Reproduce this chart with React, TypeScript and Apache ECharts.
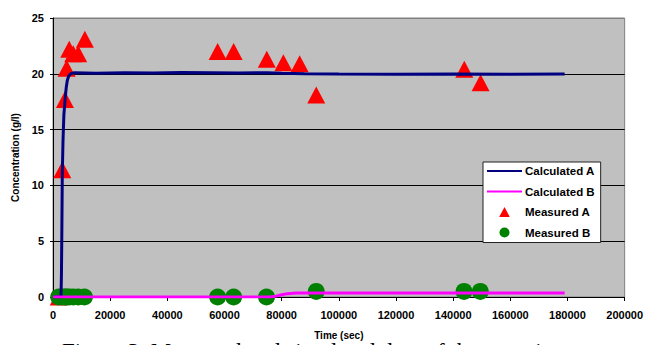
import React, { useEffect, useRef } from "react";
import * as echarts from "echarts";

const xTicks = { min: 0, max: 200000, interval: 20000 };
const yTicks = { min: 0, max: 25, interval: 5 };

const calcA: [number, number][] = [
  [0, 0], [2800, 0], [2950, 2], [3100, 6], [3250, 11], [3500, 14], [3800, 16.3],
  [4200, 17.6], [4600, 18.7], [5000, 19.4], [5500, 19.8], [6200, 20.0], [7500, 20.1],
  [15000, 20.05], [25000, 20.1], [35000, 20.08], [45000, 20.12], [55000, 20.1],
  [65000, 20.08], [75000, 20.1], [80000, 20.05], [88000, 20.0], [100000, 19.98],
  [120000, 19.97], [140000, 19.98], [160000, 19.97], [179000, 19.98],
];

const calcB: [number, number][] = [
  [0, 0], [76000, 0], [78000, 0.08], [80000, 0.2], [82000, 0.3], [85000, 0.35],
  [120000, 0.35], [150000, 0.35], [179000, 0.35],
];

const measA: [number, number][] = [
  [2000, 0], [3240, 11.4], [4180, 17.7], [4770, 20.5], [5680, 22.2], [7070, 21.8],
  [8820, 21.8], [11150, 23.1], [57600, 22.0], [63200, 22.0], [74800, 21.3],
  [80600, 21.0], [86300, 20.9], [92100, 18.1], [143900, 20.4], [149600, 19.2],
];

const measB: [number, number][] = [
  [2000, 0], [3240, 0], [4180, 0], [4770, 0], [5680, 0], [7070, 0], [8820, 0],
  [11000, 0], [57600, 0], [63200, 0], [74700, 0], [92100, 0.5], [143800, 0.5],
  [149500, 0.5],
];

const seriesNames = ["Calculated A", "Calculated B", "Measured A", "Measured B"];
const xTitle = "Time (sec)";
const yTitle = "Concentration (g/l)";
const caption = "Figure 3. Measured and simulated data of the experiment";

const SANS = "'Liberation Sans', Arial, sans-serif";

export default function App() {
  const ref = useRef<HTMLDivElement>(null);
  useEffect(() => {
    if (!ref.current) return;
    const chart = echarts.init(ref.current, null, { renderer: "svg" });
    chart.setOption({
      animation: false,
      backgroundColor: "#ffffff",
      grid: {
        left: 53, top: 18, width: 574, height: 285,
        show: true, backgroundColor: "#C0C0C0", borderColor: "#808080", borderWidth: 1,
      },
      legend: {
        orient: "vertical",
        left: 483, top: 162,
        data: [
          { name: seriesNames[0], itemStyle: { color: "rgba(0,0,0,0)", borderWidth: 0 } },
          { name: seriesNames[1], itemStyle: { color: "rgba(0,0,0,0)", borderWidth: 0 } },
          { name: seriesNames[2], icon: "path://M9,0 L18,17 L0,17 Z" },
          { name: seriesNames[3], icon: "path://M0,5 A5,5 0 1,1 10,5 A5,5 0 1,1 0,5 Z" },
        ],
        backgroundColor: "#ffffff",
        borderColor: "#222",
        borderWidth: 1,
        padding: [3, 6, 4, 3],
        itemWidth: 35,
        itemHeight: 10,
        itemGap: 8.5,
        textStyle: { fontFamily: SANS, fontWeight: "bold", fontSize: 11.5, color: "#000", padding: [0, 0, 0, -2] },
      },
      xAxis: {
        type: "value",
        min: xTicks.min, max: xTicks.max, interval: xTicks.interval,
        name: xTitle, nameLocation: "middle", nameGap: 33,
        nameTextStyle: { fontFamily: SANS, fontWeight: "bold", fontSize: 10, color: "#000", backgroundColor: "#fff", padding: [0, 2] },
        axisLine: { show: true, onZero: false, lineStyle: { color: "#000", width: 1 } },
        axisTick: { show: true, length: 4, lineStyle: { color: "#000" } },
        axisLabel: { fontFamily: SANS, fontWeight: "bold", fontSize: 11, color: "#000", margin: 12, formatter: (v: number) => String(v) },
        splitLine: { show: false },
      },
      yAxis: {
        type: "value",
        min: yTicks.min, max: yTicks.max, interval: yTicks.interval,
        name: yTitle, nameLocation: "middle", nameGap: 31, nameRotate: 90,
        nameTextStyle: { fontFamily: SANS, fontWeight: "bold", fontSize: 10, color: "#000" },
        axisLine: { show: true, lineStyle: { color: "#000", width: 1 } },
        axisTick: { show: true, length: 3, lineStyle: { color: "#000" } },
        axisLabel: { fontFamily: SANS, fontWeight: "bold", fontSize: 11, color: "#000", margin: 9 },
        splitLine: { show: true, lineStyle: { color: ["#000", "#000", "#000", "#000", "#000", "#808080"], width: 1 } },
      },
      graphic: [
        {
          type: "text", z: -1, x: 62, y: 351,
          style: { text: caption, font: "23px 'Liberation Serif', 'Times New Roman', serif", fill: "#000", verticalAlign: "middle" },
        },
      ],
      series: [
        { name: seriesNames[0], type: "line", data: calcA, symbol: "none", lineStyle: { color: "#000080", width: 3 }, itemStyle: { color: "#000080" } },
        { name: seriesNames[1], type: "line", data: calcB, symbol: "none", lineStyle: { color: "#FF00FF", width: 3 }, itemStyle: { color: "#FF00FF" } },
        { name: seriesNames[2], type: "scatter", data: measA, symbol: "triangle", symbolSize: [18, 17], itemStyle: { color: "#FF0000", opacity: 1 }, clip: false },
        { name: seriesNames[3], type: "scatter", data: measB, symbol: "circle", symbolSize: 17, itemStyle: { color: "#008000", opacity: 1 }, clip: false },
      ],
    });
    return () => chart.dispose();
  }, []);
  return <div ref={ref} style={{ position: "fixed", left: 0, top: 0, width: 646, height: 345 }} />;
}
